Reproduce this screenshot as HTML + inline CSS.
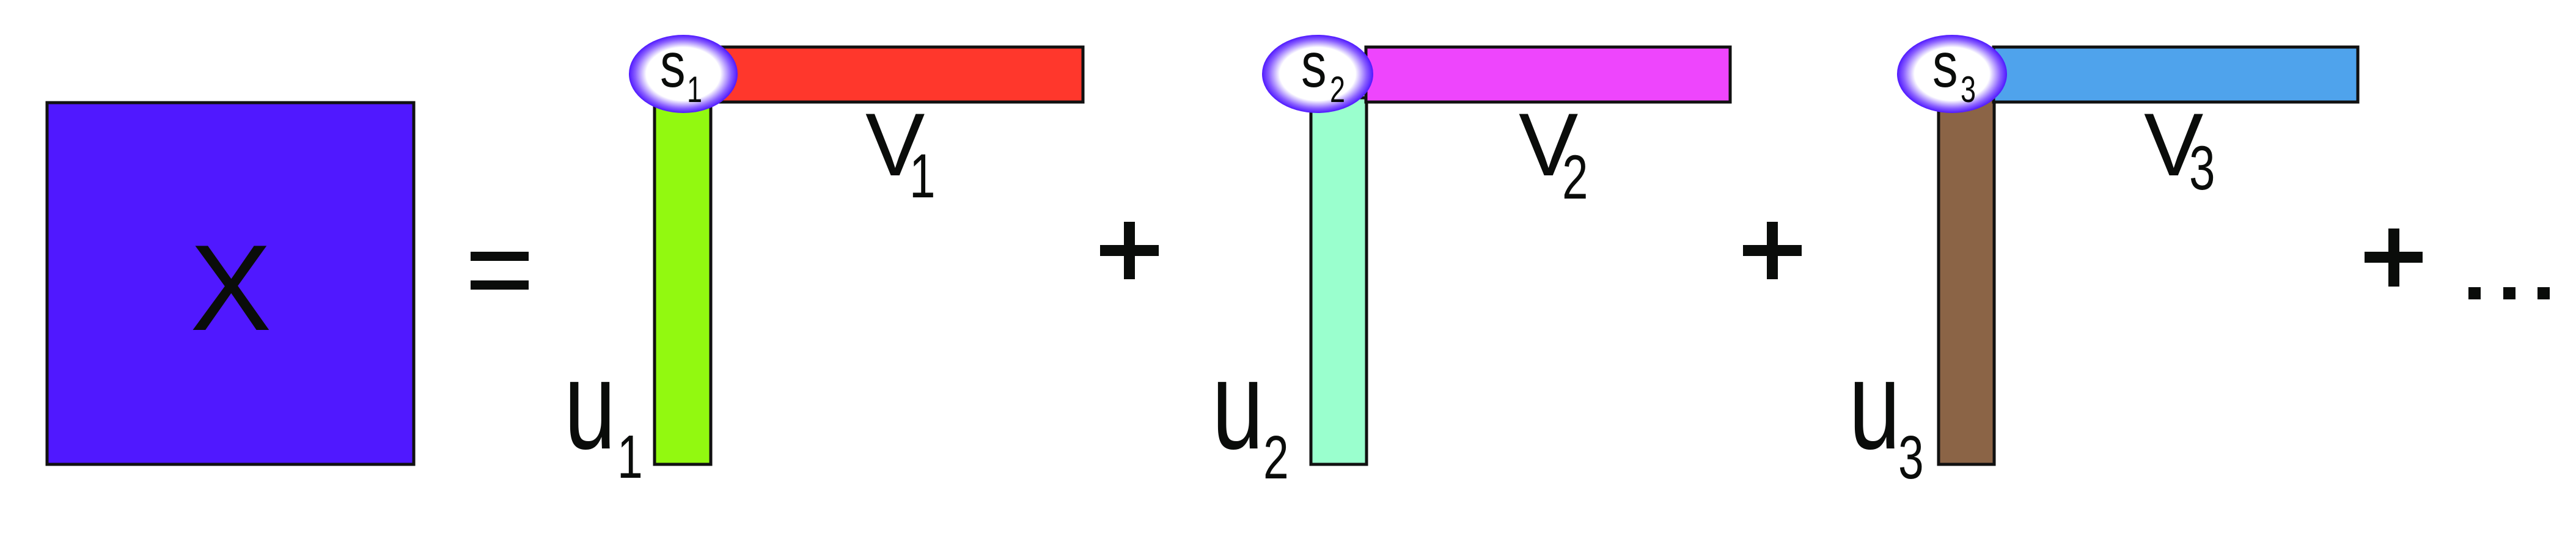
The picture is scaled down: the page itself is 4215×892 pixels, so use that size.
<!DOCTYPE html>
<html><head><meta charset="utf-8"><style>
html,body{margin:0;padding:0;background:#fff;width:4215px;height:892px;overflow:hidden}
svg{display:block}
text{font-family:"Liberation Sans",Arial,sans-serif;fill:#0a0c0a}
</style></head><body>
<svg width="4215" height="892" viewBox="0 0 4215 892" xmlns="http://www.w3.org/2000/svg">
<defs>
<radialGradient id="g" cx="50%" cy="50%" r="50%">
<stop offset="0" stop-color="#fff"/>
<stop offset="0.68" stop-color="#fff"/>
<stop offset="0.88" stop-color="#8a60ff"/>
<stop offset="1" stop-color="#4f18ff"/>
</radialGradient>
</defs>
<rect x="77" y="168" width="600" height="592" fill="#5018ff" stroke="#111" stroke-width="5"/>
<text x="311" y="540" font-size="200">X</text>
<rect x="770" y="412" width="95" height="15" fill="#0a0c0a"/>
<rect x="770" y="459" width="95" height="15" fill="#0a0c0a"/>

<!-- group 1 -->
<rect x="1071" y="160" width="92" height="600" fill="#92f910" stroke="#111" stroke-width="5"/>
<rect x="1163" y="77" width="609" height="90" fill="#ff372c" stroke="#111" stroke-width="5"/>
<ellipse cx="1118" cy="121" rx="89" ry="64" fill="url(#g)"/>
<text font-size="104" transform="translate(1080 142) scale(0.8 1)">s</text>
<text font-size="60" transform="translate(1124 167) scale(0.75 1)">1</text>
<text x="1416" y="287" font-size="146">V</text>
<text font-size="102" transform="translate(1488 323) scale(0.75 1)">1</text>
<text font-size="206" transform="translate(923 734) scale(0.74 1)">u</text>
<text font-size="100" transform="translate(1010 782) scale(0.75 1)">1</text>

<rect x="1800" y="401" width="96" height="18" fill="#0a0c0a"/>
<rect x="1839" y="363" width="18" height="94" fill="#0a0c0a"/>

<!-- group 2 -->
<rect x="2145" y="160" width="91" height="600" fill="#9affce" stroke="#111" stroke-width="5"/>
<rect x="2235" y="77" width="596" height="90" fill="#ee45fd" stroke="#111" stroke-width="5"/>
<ellipse cx="2156" cy="121" rx="91" ry="64" fill="url(#g)"/>
<text font-size="104" transform="translate(2129 142) scale(0.8 1)">s</text>
<text font-size="60" transform="translate(2176 167) scale(0.75 1)">2</text>
<text x="2485" y="287" font-size="146">V</text>
<text font-size="102" transform="translate(2556 325) scale(0.75 1)">2</text>
<text font-size="206" transform="translate(1983 734) scale(0.74 1)">u</text>
<text font-size="100" transform="translate(2067 783) scale(0.75 1)">2</text>

<rect x="2852" y="401" width="96" height="18" fill="#0a0c0a"/>
<rect x="2891" y="363" width="18" height="94" fill="#0a0c0a"/>

<!-- group 3 -->
<rect x="3172" y="160" width="91" height="600" fill="#8b6446" stroke="#111" stroke-width="5"/>
<rect x="3262" y="77" width="596" height="90" fill="#4fa3ec" stroke="#111" stroke-width="5"/>
<ellipse cx="3194" cy="121" rx="90" ry="64" fill="url(#g)"/>
<text font-size="104" transform="translate(3162 142) scale(0.8 1)">s</text>
<text font-size="60" transform="translate(3208 167) scale(0.75 1)">3</text>
<text x="3508" y="287" font-size="146">V</text>
<text font-size="102" transform="translate(3582 310) scale(0.75 1)">3</text>
<text font-size="206" transform="translate(3025 734) scale(0.74 1)">u</text>
<text font-size="100" transform="translate(3106 783) scale(0.75 1)">3</text>

<rect x="3869" y="412" width="95" height="18" fill="#0a0c0a"/>
<rect x="3908" y="374" width="18" height="95" fill="#0a0c0a"/>
<rect x="4039" y="470" width="20" height="20" fill="#0a0c0a"/>
<rect x="4096" y="470" width="20" height="20" fill="#0a0c0a"/>
<rect x="4152" y="470" width="20" height="20" fill="#0a0c0a"/>
</svg>
</body></html>
